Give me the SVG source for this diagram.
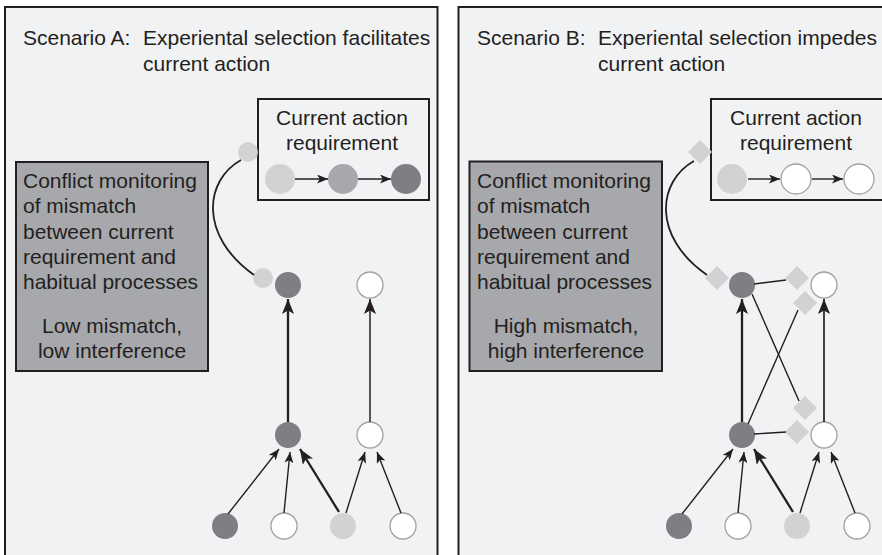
<svg xmlns="http://www.w3.org/2000/svg" width="882" height="555" viewBox="0 0 882 555">
  <defs>
    <style>
      text { font-family: "Liberation Sans", Arial, Helvetica, sans-serif; font-size: 21px; fill: #231f20; }
      .mid { text-anchor: middle; }
      .panel { fill: #f1f2f4; stroke: #231f20; stroke-width: 2; }
      .monitor { fill: #a7a8ab; stroke: #231f20; stroke-width: 2; }
      .req { fill: none; stroke: #231f20; stroke-width: 2; }
      .dark { fill: #7e7f82; }
      .midgray { fill: #a7a8ab; }
      .light { fill: #d1d2d4; }
      .white { fill: #ffffff; stroke: #a0a1a4; stroke-width: 1.3; }
      .dia { fill: #d1d2d4; }
      .thin { stroke: #231f20; stroke-width: 1.4; fill: none; marker-end: url(#head); }
      .thick { stroke: #231f20; stroke-width: 2.3; fill: none; marker-end: url(#headBig); }
      .plain { stroke: #231f20; stroke-width: 1.4; fill: none; }
      .curve { stroke: #231f20; stroke-width: 1.8; fill: none; }
    </style>
    <marker id="head" viewBox="0 0 11 9" refX="11" refY="4.5" markerWidth="11" markerHeight="9" markerUnits="userSpaceOnUse" orient="auto">
      <path d="M0,0 L11,4.5 L0,9 L2.8,4.5 Z" fill="#231f20"/>
    </marker>
    <marker id="headBig" viewBox="0 0 15 12" refX="15" refY="6" markerWidth="15" markerHeight="12" markerUnits="userSpaceOnUse" orient="auto">
      <path d="M0,0 L15,6 L0,12 L3.5,6 Z" fill="#231f20"/>
    </marker>
  </defs>

  <rect width="882" height="555" fill="#ffffff"/>

  <!-- Scenario A -->
  <g id="panel-a">
    <rect class="panel" x="5" y="7" width="432.5" height="600"/>
    <text x="23" y="45">Scenario A:<tspan x="143">Experiental selection facilitates</tspan></text>
    <text x="143" y="71">current action</text>
  </g>

  <g id="monitor-a">
    <rect class="monitor" x="16" y="162" width="192" height="209"/>
    <text x="23" y="188">Conflict monitoring</text>
    <text x="23" y="213">of mismatch</text>
    <text x="23" y="239">between current</text>
    <text x="23" y="264">requirement and</text>
    <text x="23" y="289">habitual processes</text>
    <text class="mid" x="112" y="333">Low mismatch,</text>
    <text class="mid" x="112" y="358">low interference</text>
  </g>

  <g id="requirement-a">
    <rect class="req" x="258" y="99" width="171" height="101"/>
    <text class="mid" x="342" y="125">Current action</text>
    <text class="mid" x="342" y="150">requirement</text>
    <circle class="light" cx="280" cy="179" r="15"/>
    <circle class="midgray" cx="343" cy="179" r="15"/>
    <circle class="dark" cx="406" cy="179" r="15"/>
  </g>

  <g id="nodes-a">
    <circle id="a-probe-top" class="light" cx="248" cy="152" r="10"/>
    <circle id="a-probe-low" class="light" cx="263" cy="278" r="10"/>
    <circle id="a-top-1" class="dark" cx="288" cy="285" r="13"/>
    <circle id="a-top-2" class="white" cx="370" cy="285" r="13"/>
    <circle id="a-mid-1" class="dark" cx="288" cy="435" r="13"/>
    <circle id="a-mid-2" class="white" cx="370" cy="435" r="13"/>
    <circle id="a-in-1" class="dark" cx="225" cy="526" r="13"/>
    <circle id="a-in-2" class="white" cx="284" cy="526" r="13"/>
    <circle id="a-in-3" class="light" cx="343" cy="526" r="13"/>
    <circle id="a-in-4" class="white" cx="403" cy="526" r="13"/>
  </g>

  <!-- Scenario B -->
  <g id="panel-b">
    <rect class="panel" x="458.5" y="7" width="440" height="600"/>
    <text x="477" y="45">Scenario B:<tspan x="598">Experiental selection impedes</tspan></text>
    <text x="598" y="71">current action</text>
  </g>

  <g id="monitor-b">
    <rect class="monitor" x="469.5" y="161.5" width="192.5" height="209.5"/>
    <text x="477" y="188">Conflict monitoring</text>
    <text x="477" y="213">of mismatch</text>
    <text x="477" y="239">between current</text>
    <text x="477" y="264">requirement and</text>
    <text x="477" y="289">habitual processes</text>
    <text class="mid" x="566" y="333">High mismatch,</text>
    <text class="mid" x="566" y="358">high interference</text>
  </g>

  <g id="requirement-b">
    <rect class="req" x="711" y="99" width="175" height="101"/>
    <text class="mid" x="796" y="125">Current action</text>
    <text class="mid" x="796" y="150">requirement</text>
    <circle class="light" cx="732" cy="179" r="15"/>
    <circle class="white" cx="796" cy="179" r="15"/>
    <circle class="white" cx="859" cy="179" r="15"/>
  </g>

  <g id="nodes-b">
    <rect id="b-probe-top" class="dia" x="691.5" y="143.5" width="17" height="17" transform="rotate(45 700 152)"/>
    <rect id="b-probe-low" class="dia" x="708.5" y="269.5" width="17" height="17" transform="rotate(45 717 278)"/>
    <rect id="b-gate-1" class="dia" x="788.5" y="269.5" width="17" height="17" transform="rotate(45 797 278)"/>
    <rect id="b-gate-2" class="dia" x="796.5" y="294.5" width="17" height="17" transform="rotate(45 805 303)"/>
    <rect id="b-gate-3" class="dia" x="796.5" y="399.5" width="17" height="17" transform="rotate(45 805 408)"/>
    <rect id="b-gate-4" class="dia" x="788.5" y="423.5" width="17" height="17" transform="rotate(45 797 432)"/>
    <circle id="b-top-1" class="dark" cx="742" cy="285" r="13"/>
    <circle id="b-top-2" class="white" cx="824" cy="285" r="13"/>
    <circle id="b-mid-1" class="dark" cx="742" cy="435" r="13"/>
    <circle id="b-mid-2" class="white" cx="824" cy="435" r="13"/>
    <circle id="b-in-1" class="dark" cx="679" cy="526" r="13"/>
    <circle id="b-in-2" class="white" cx="738" cy="526" r="13"/>
    <circle id="b-in-3" class="light" cx="797" cy="526" r="13"/>
    <circle id="b-in-4" class="white" cx="857" cy="526" r="13"/>
  </g>

  <g id="connectors">
    <!-- Scenario A -->
    <line class="thin" x1="295" y1="179" x2="328" y2="179"/>
    <line class="thin" x1="358" y1="179" x2="391" y2="179"/>
    <path class="curve" d="M241,160 C205,180 198,235 254,275"/>
    <line class="thick" x1="288" y1="422" x2="288" y2="299"/>
    <line class="thick" x1="370" y1="422" x2="370" y2="299" style="stroke:#3a3a3c;stroke-width:1.7"/>
    <line class="thin" x1="228" y1="514" x2="279" y2="449"/>
    <line class="thin" x1="284" y1="513" x2="290" y2="452"/>
    <line class="thick" x1="339" y1="512" x2="300" y2="449"/>
    <line class="thin" x1="346" y1="513" x2="365" y2="452"/>
    <line class="thin" x1="401" y1="513" x2="377" y2="452"/>

    <!-- Scenario B -->
    <line class="thin" x1="748" y1="179" x2="780" y2="179"/>
    <line class="thin" x1="812" y1="179" x2="843" y2="179"/>
    <path class="curve" d="M694,161 C658,181 651,236 707,275"/>
    <line class="thick" x1="742" y1="422" x2="742" y2="299"/>
    <line class="thick" x1="824" y1="422" x2="824" y2="299" style="stroke-width:1.7"/>
    <line class="plain" x1="754" y1="284" x2="786" y2="280"/>
    <line class="plain" x1="752" y1="294" x2="799" y2="401"/>
    <line class="plain" x1="748" y1="424" x2="798" y2="310"/>
    <line class="plain" x1="754" y1="434" x2="786" y2="432"/>
    <line class="thin" x1="682" y1="514" x2="733" y2="449"/>
    <line class="thin" x1="738" y1="513" x2="744" y2="452"/>
    <line class="thick" x1="793" y1="512" x2="754" y2="449"/>
    <line class="thin" x1="800" y1="513" x2="819" y2="452"/>
    <line class="thin" x1="855" y1="513" x2="831" y2="452"/>
  </g>
</svg>
